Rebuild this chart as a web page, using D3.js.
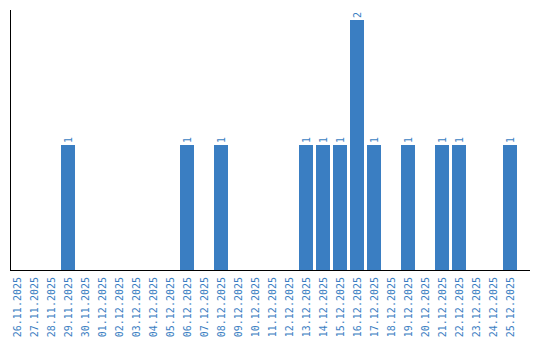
<!DOCTYPE html>
<html><head><meta charset="utf-8">
<script src="https://cdn.jsdelivr.net/npm/d3@7"></script>
<style>body{margin:0;background:#fff}</style>
</head><body>
<svg id="c" width="540" height="340"></svg>
<script>
const categories = ["26.11.2025","27.11.2025","28.11.2025","29.11.2025","30.11.2025","01.12.2025","02.12.2025","03.12.2025","04.12.2025","05.12.2025","06.12.2025","07.12.2025","08.12.2025","09.12.2025","10.12.2025","11.12.2025","12.12.2025","13.12.2025","14.12.2025","15.12.2025","16.12.2025","17.12.2025","18.12.2025","19.12.2025","20.12.2025","21.12.2025","22.12.2025","23.12.2025","24.12.2025","25.12.2025"];
const values = [0,0,0,1,0,0,0,0,0,0,1,0,1,0,0,0,0,1,1,1,2,1,0,1,0,1,1,0,0,1];

const color = "#3a7ec2";
const font = "'DejaVu Sans Mono', monospace";
const svg = d3.select("#c");
const x = d3.scaleBand().domain(categories).range([10, 517]).paddingInner(3/17).paddingOuter(0);
const y = d3.scaleLinear().domain([0, 2.08]).range([270, 10]);

const data = categories.map((c,i)=>({c, v: values[i]}));

svg.selectAll("rect.bar").data(data.filter(d=>d.v>0)).enter().append("rect")
  .attr("x", d=>x(d.c)).attr("width", x.bandwidth())
  .attr("y", d=>y(d.v)).attr("height", d=>y(0)-y(d.v))
  .attr("fill", color);

svg.selectAll("text.val").data(data.filter(d=>d.v>0)).enter().append("text")
  .attr("transform", d=>`translate(${x(d.c)+x.bandwidth()/2+3.5},${y(d.v)-2}) rotate(-90)`)
  .attr("font-family", font).attr("font-size", 10).attr("fill", color)
  .text(d=>d.v);

// axes lines
svg.append("line").attr("x1",10.5).attr("x2",10.5).attr("y1",10).attr("y2",270.5).attr("stroke","#000").attr("stroke-width",1);
svg.append("line").attr("x1",10).attr("x2",530).attr("y1",270.5).attr("y2",270.5).attr("stroke","#000").attr("stroke-width",1);

svg.selectAll("text.lab").data(categories).enter().append("text")
  .attr("transform", d=>`translate(${x(d)+x.bandwidth()/2+3.5},277) rotate(-90)`)
  .attr("text-anchor","end")
  .attr("font-family", font).attr("font-size", 10).attr("fill", color)
  .text(d=>d);
</script>
</body></html>
